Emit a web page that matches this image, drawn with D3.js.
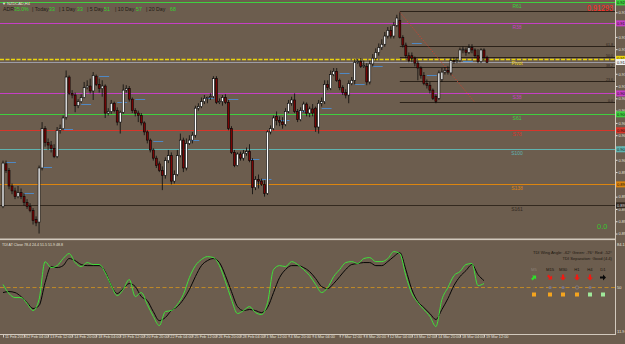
<!DOCTYPE html>
<html>
<head>
<meta charset="utf-8">
<script src="https://d3js.org/d3.v7.min.js"></script>
<style>
  body { margin: 0; background: #6c5d4e; }
  svg { display: block; font-family: "Liberation Sans", Arial, sans-serif; }
</style>
</head>
<body>
<script>
// NZDCAD H4 - bar 0 = 11 Feb 2019 00:00, last bar = 19 Mar 12:00
// candle prices kept in pips above 0.90000
var openPips = [-47,5,-3,-22,-28,-35,-30,-35,-42,-47,
  -52,-63,-66,0,48,31,28,24,14,46,
  48,62,111,91,89,76,81,86,98,100,
  94,112,102,97,100,67,69,79,70,56,
  68,95,97,84,70,67,64,55,44,34,
  22,12,5,-3,-9,9,15,-16,-8,15,
  34,0,30,34,40,73,75,81,85,86,
  87,109,80,81,86,80,48,19,3,17,
  12,18,20,9,-24,-14,-16,-20,-31,44,
  48,63,58,56,53,69,79,83,69,59,
  70,78,67,72,73,50,79,81,102,97,
  114,118,107,98,92,89,103,107,129,130,
  124,124,105,127,134,141,147,151,161,168,
  161,174,180,159,150,137,137,134,128,122,
  113,103,101,95,87,85,108,117,119,116,
  131,130,131,144,144,141,147,144,137,130,
  144,135];
var closePips = [6,-3,-22,-28,-35,-30,-35,-42,-47,-52,
  -64,-67,0,48,31,28,24,14,46,48,
  61,111,91,89,76,81,86,98,100,94,
  113,102,97,100,67,69,79,70,56,68,
  95,97,84,70,67,64,55,44,34,22,
  12,3,-3,-9,9,15,-16,-8,15,34,
  0,30,34,40,73,75,81,85,86,87,
  109,80,81,86,80,48,19,3,17,12,
  18,20,9,-24,-14,-16,-20,-31,44,48,
  61,58,56,53,69,79,83,69,59,70,
  78,67,72,67,50,79,81,102,98,114,
  118,107,98,92,89,103,107,129,130,124,
  125,105,127,134,141,147,151,161,168,161,
  174,183,159,150,137,131,134,128,122,113,
  103,101,95,85,81,116,117,119,117,131,
  130,131,144,145,141,147,144,137,130,144,
  135,129];
var highPips = [9,9,0,-19,-24,-22,-25,-31,-38,-43,
  -49,-59,3,56,51,36,33,29,50,53,
  64,119,113,95,92,84,90,105,107,109,
  117,114,109,107,102,73,83,81,74,70,
  102,101,100,86,73,70,67,57,46,36,
  24,15,8,2,13,22,19,-3,22,42,
  37,36,40,44,76,79,86,89,87,91,
  112,112,85,89,90,83,51,22,19,20,
  22,25,29,12,-10,-8,-13,-15,46,52,
  64,69,63,62,73,83,87,91,72,74,
  81,80,75,78,75,83,86,107,107,119,
  122,122,109,101,96,107,111,133,133,134,
  131,128,131,139,146,152,157,166,172,173,
  178,187,190,162,153,141,141,136,131,124,
  117,108,105,97,90,119,122,123,124,134,
  135,135,147,148,147,151,151,146,145,146,
  146,137];
var lowPips = [-49,-6,-26,-32,-38,-37,-38,-46,-50,-54,
  -69,-71,-80,-3,26,22,19,12,12,42,
  46,59,89,85,68,73,79,85,96,91,
  83,100,92,87,61,64,66,68,52,42,
  66,92,81,67,63,56,52,40,30,19,
  9,0,-5,-27,-13,6,-20,-19,-10,13,
  -5,-3,28,30,37,70,73,78,79,83,
  85,78,78,76,78,46,17,1,2,9,
  9,15,7,-32,-27,-25,-22,-35,-33,41,
  46,52,51,48,51,67,76,67,56,57,
  68,63,62,63,44,42,75,78,95,95,
  112,105,95,89,85,79,101,102,127,122,
  122,101,102,124,131,137,144,148,158,158,
  158,172,158,147,134,129,129,124,107,109,
  101,97,91,83,79,83,105,114,114,113,
  127,128,129,140,137,139,140,134,128,128,
  131,128];

// TDI lines, one reading every 2nd bar
var tdiGreen = [52.5,45.1,41.8,41.8,36.9,31.1,40.2,71.3,66.4,68.0,
  73.8,77.9,70.5,67.2,70.5,68.9,68.9,62.3,51.6,43.4,
  48.4,56.6,42.6,45.9,36.1,26.3,18.8,30.3,31.1,36.1,
  44.3,58.2,68.0,73.0,75.4,74.6,68.0,54.9,40.2,28.7,
  31.1,34.4,29.5,27.9,37.7,64.8,68.0,67.2,71.3,68.9,
  64.8,59.8,52.5,45.9,50.0,59.0,64.8,70.5,71.3,69.7,
  73.8,74.6,71.3,71.3,73.8,79.5,77.9,59.8,45.1,37.7,
  32.0,26.3,18.0,40.2,50.0,59.8,63.1,68.9,69.7,51.6,
  53.3];
var tdiSignal = [45.9,46.7,45.9,42.6,37.7,32.8,35.2,54.1,67.2,66.4,
  68.0,73.8,72.1,68.9,68.0,68.0,68.0,63.1,51.6,45.1,
  49.2,53.3,50.8,42.6,39.3,30.3,22.9,25.4,31.1,34.4,
  40.2,48.4,59.0,68.0,72.1,73.8,70.5,59.8,46.7,34.4,
  31.1,32.0,31.1,29.5,33.6,45.9,58.2,64.8,68.0,68.0,
  66.4,63.1,57.4,50.8,49.2,53.3,59.0,64.8,68.9,69.7,
  70.5,70.5,68.0,68.0,71.3,75.4,78.7,64.8,48.4,38.5,
  33.6,28.7,23.8,32.0,41.0,51.6,59.0,63.9,68.9,60.7,
  55.7];

var timeTickBars = [0,7,15,23,31,39,47,55,63,71,79,87,95,103,112,120,128,136,144,152,160];
var timeTickLabels = ["11 Feb 2019","12 Feb 04:00","13 Feb 12:00","14 Feb 20:00","18 Feb 04:00",
  "19 Feb 12:00","20 Feb 20:00","22 Feb 04:00","25 Feb 12:00","26 Feb 20:00","28 Feb 04:00",
  "1 Mar 12:00","4 Mar 20:00","6 Mar 04:00","7 Mar 12:00","8 Mar 20:00","12 Mar 04:00",
  "13 Mar 12:00","14 Mar 20:00","18 Mar 04:00","19 Mar 12:00"];
var priceTicks = [0.9190,0.9175,0.9160,0.9145,0.9130,0.9115,0.9100,0.9085,0.9070,0.9055,
  0.9040,0.9025,0.9010,0.8995,0.8980,0.8965,0.8950,0.8935,0.8920];
var tdiTicks = [84.1, 50, 11.9];

var levelNames = ["R61","R38","Pivot","S38","S61","S78","S100","S138","S161"];
var levelPrices = [0.92020,0.91765,0.91332,0.90910,0.90655,0.90460,0.90228,0.89800,0.89545];
var bidPrice = 0.91293;

var fibHigh = 0.9192, fibLow = 0.9080, fibStartBar = 132;
var fibRatios = [0, 23.6, 38.2, 50, 61.8, 100];
var trendBars = [132, 157], trendPrices = [0.9190, 0.9080];

var dayOpenBars = [1,7,13,20,26,32,38,44,50,62,67,75,82,86,92,98,106,112,117,123,136,141,153];
var dayOpenPrices = [0.9007,0.8969,0.9001,0.9047,0.9078,0.9112,0.9080,0.9084,0.9033,0.9034,
  0.9085,0.9084,0.9011,0.8987,0.9059,0.9070,0.9073,0.9116,0.9103,0.9124,0.9152,0.9114,0.9131];

var adrNames = ["ADR:", "|  Today", "|  1 Day", "|  5 Day", "|  10 Day", "|  20 Day"];
var adrValues = ["35.0%", "33", "33", "51", "57", "68"];
var tdiHeader = "TDI AT Close 78.4 24.4 51.5 51.9 48.8";
var tdiWing = "TDI Wing Angle: -62°  Green: -76°  Red: -52°";
var tdiSeparation = "TDI Separation: Good (4.4)";
var tfNames = ["M5","M15","M30","H1","H4","D1"];
var tfDirection = ["upright","downright","down","down","down","right"];
var tfDots = ["tiny","full","full","ring","full","tiny"];
var tfStrength = ["weak","weak","weak","weak","strong","strong"];

// ---------------------------------------------------------------
var W = 625, H = 344, axisX = 615;
var bg = "#6c5d4e", axisCol = "#d2c9bd", txtCol = "#e6e2dc";
var levelCol = {R61:"#3fd03f", R38:"#c63fc6", Pivot:"#ecd60c", S38:"#c63fc6", S61:"#3fcf3f",
  S78:"#d8352a", S100:"#5fb3b0", S138:"#dc850f", S161:"#33291f"};

var toPrice = function(p) { return 0.9 + p / 10000; };
var bars = openPips.map(function(o, i) {
  return { i: i, o: toPrice(o), h: toPrice(highPips[i]), l: toPrice(lowPips[i]), c: toPrice(closePips[i]) };
});

var x = d3.scaleLinear().domain([0, bars.length - 1]).range([3, 487]);
var y = d3.scaleLinear().domain([0.8917, 0.9205]).range([236, 0]);
var yi = d3.scaleLinear().domain([11.9, 84.1]).range([334, 246]);

var svg = d3.select("body").append("svg").attr("width", W).attr("height", H);
svg.append("rect").attr("width", W).attr("height", H).attr("fill", bg);

var defs = svg.append("defs");
defs.append("clipPath").attr("id", "mainClip").append("rect")
  .attr("x", 0).attr("y", 0).attr("width", axisX).attr("height", 237);
defs.append("clipPath").attr("id", "subClip").append("rect")
  .attr("x", 0).attr("y", 241).attr("width", axisX).attr("height", 93);

var main = svg.append("g").attr("clip-path", "url(#mainClip)");

// bid line
main.append("line").attr("x1", 0).attr("x2", axisX)
  .attr("y1", Math.round(y(bidPrice)) + 0.5).attr("y2", Math.round(y(bidPrice)) + 0.5)
  .attr("stroke", "#9c9ca6").attr("stroke-width", 1);

// pivot levels
levelNames.forEach(function(n, k) {
  var ly = Math.round(y(levelPrices[k])) + 0.5;
  main.append("line").attr("x1", 0).attr("x2", axisX).attr("y1", ly).attr("y2", ly)
    .attr("stroke", levelCol[n]).attr("stroke-width", n === "Pivot" ? 1.3 : 1)
    .attr("stroke-dasharray", n === "Pivot" ? "4,1.5" : null);
  main.append("text").attr("x", 517).attr("y", ly + 5).attr("text-anchor", "middle")
    .attr("font-size", 5).attr("fill", levelCol[n]).text(n);
});

// fibonacci retracement
fibRatios.forEach(function(r) {
  var fy = Math.round(y(fibLow + (fibHigh - fibLow) * r / 100)) + 0.5;
  main.append("line").attr("x1", x(fibStartBar)).attr("x2", axisX).attr("y1", fy).attr("y2", fy)
    .attr("stroke", "#2b2219").attr("stroke-width", 1);
  main.append("text").attr("x", 613).attr("y", fy - 1).attr("text-anchor", "end")
    .attr("font-size", 3.6).attr("fill", "#2b2219").text(r.toFixed(1));
});

// trend line
main.append("line")
  .attr("x1", x(trendBars[0])).attr("y1", y(trendPrices[0]))
  .attr("x2", x(trendBars[1])).attr("y2", y(trendPrices[1]))
  .attr("stroke", "#d8402c").attr("stroke-width", 0.9).attr("stroke-dasharray", "1.2,1.6");

// day open marks
dayOpenBars.forEach(function(b, k) {
  var dy = Math.round(y(dayOpenPrices[k])) + 0.5;
  main.append("line").attr("x1", x(b)).attr("x2", x(b + 3.3)).attr("y1", dy).attr("y2", dy)
    .attr("stroke", "#4f88c4").attr("stroke-width", 1);
});

// candles
var cg = main.append("g");
cg.selectAll("line.wick").data(bars).enter().append("line").attr("class", "wick")
  .attr("x1", function(d) { return x(d.i); }).attr("x2", function(d) { return x(d.i); })
  .attr("y1", function(d) { return y(d.h); }).attr("y2", function(d) { return y(d.l); })
  .attr("stroke", "#0a0a0a").attr("stroke-width", 0.8);
cg.selectAll("rect.body").data(bars).enter().append("rect").attr("class", "body")
  .attr("x", function(d) { return x(d.i) - 1; })
  .attr("width", 2)
  .attr("y", function(d) { return y(Math.max(d.o, d.c)); })
  .attr("height", function(d) { return Math.max(0.8, Math.abs(y(d.o) - y(d.c))); })
  .attr("fill", function(d) { return d.c >= d.o ? "#ffffff" : "#7a0505"; })
  .attr("stroke", "#050505").attr("stroke-width", 0.6);

// header texts
svg.append("text").attr("x", 2).attr("y", 4.5).attr("font-size", 4).attr("fill", txtCol)
  .text("▼ NZDCAD,H4");
var adrX = [3, 32, 59, 87, 115, 146], adrVX = [14, 49, 77, 104, 136, 170];
adrNames.forEach(function(n, k) {
  svg.append("text").attr("x", adrX[k]).attr("y", 11).attr("font-size", 5.2)
    .attr("fill", "#231c15").text(n);
  svg.append("text").attr("x", adrVX[k]).attr("y", 11).attr("font-size", 5.2)
    .attr("fill", "#35d12f").text(adrValues[k]);
});
svg.append("text").attr("x", 587).attr("y", 10.5)
  .attr("font-size", 9.2).attr("textLength", 26).attr("lengthAdjust", "spacingAndGlyphs")
  .attr("fill", "#ff2b22").text(d3.format(".5f")(bidPrice));
svg.append("text").attr("x", 597).attr("y", 228.5).attr("font-size", 7.5)
  .attr("fill", "#35c52f").text("0.0");

// panel separator + axes frame
svg.append("rect").attr("x", 0).attr("y", 238.5).attr("width", axisX).attr("height", 1.6).attr("fill", axisCol);
svg.append("line").attr("x1", axisX + 0.5).attr("x2", axisX + 0.5).attr("y1", 0).attr("y2", 335)
  .attr("stroke", axisCol).attr("stroke-width", 1);
svg.append("line").attr("x1", 0).attr("x2", axisX + 1).attr("y1", 334.5).attr("y2", 334.5)
  .attr("stroke", axisCol).attr("stroke-width", 1.2);

// price axis
var pAxis = svg.append("g").attr("transform", "translate(" + (axisX + 1) + ",0)")
  .call(d3.axisRight(y).tickValues(priceTicks).tickSize(1.5).tickPadding(1)
    .tickFormat(d3.format(".5f")));
pAxis.select(".domain").remove();
pAxis.selectAll("line").attr("stroke", txtCol);
pAxis.selectAll("text").attr("font-size", 4).attr("fill", txtCol).attr("font-family", "Liberation Sans, Arial");

// level price boxes on the axis
var boxes = levelNames.map(function(n, k) { return { p: levelPrices[k], col: levelCol[n] }; });
boxes.push({ p: bidPrice, col: "#f2f2f2" });
boxes.forEach(function(b) {
  var by = y(b.p);
  svg.append("rect").attr("x", axisX + 1).attr("y", by - 3).attr("width", 10).attr("height", 6)
    .attr("fill", b.col);
  svg.append("text").attr("x", axisX + 2).attr("y", by + 1.5).attr("font-size", 4)
    .attr("fill", b.col === "#33291f" ? "#ddd" : "#111").text(d3.format(".5f")(b.p));
});

// time axis
var tAxis = svg.append("g").attr("transform", "translate(0,335)")
  .call(d3.axisBottom(x).tickValues(timeTickBars).tickSize(2.5).tickPadding(1)
    .tickFormat(function(d, k) { return timeTickLabels[k]; }));
tAxis.select(".domain").remove();
tAxis.selectAll("line").attr("stroke", axisCol);
tAxis.selectAll("text").attr("font-size", 3.8).attr("fill", txtCol)
  .attr("text-anchor", "start").attr("dx", 1.5).attr("dy", -0.3)
  .attr("font-family", "Liberation Sans, Arial");

// ---- TDI sub window
var sub = svg.append("g").attr("clip-path", "url(#subClip)");
sub.append("line").attr("x1", 0).attr("x2", axisX).attr("y1", yi(50)).attr("y2", yi(50))
  .attr("stroke", "#c98f22").attr("stroke-width", 0.9).attr("stroke-dasharray", "4,2.5");
var tdiLine = d3.line().x(function(d, k) { return x(k * 2); }).y(function(d) { return yi(d); })
  .curve(d3.curveMonotoneX);
sub.append("path").attr("d", tdiLine(tdiSignal)).attr("fill", "none")
  .attr("stroke", "#050505").attr("stroke-width", 1);
sub.append("path").attr("d", tdiLine(tdiGreen)).attr("fill", "none")
  .attr("stroke", "#3fe23a").attr("stroke-width", 1);

svg.append("text").attr("x", 2).attr("y", 245.5).attr("font-size", 3.6).attr("fill", txtCol)
  .text(tdiHeader);
tdiTicks.forEach(function(v) {
  svg.append("text").attr("x", axisX + 2).attr("y", v === 50 ? yi(v) + 1.5 : (v > 50 ? 246 : 332.5))
    .attr("font-size", 4).attr("fill", txtCol).text(v === 50 ? "50" : v.toFixed(1));
});

svg.append("text").attr("x", 612).attr("y", 253.5).attr("text-anchor", "end")
  .attr("font-size", 4.1).attr("fill", "#1c1610").text(tdiWing);
svg.append("text").attr("x", 612).attr("y", 259.5).attr("text-anchor", "end")
  .attr("font-size", 4.1).attr("fill", "#1c1610").text(tdiSeparation);

var tfX = [534, 550, 563, 577, 590, 603];
var dirAngle = { upright: -45, downright: 45, down: 90, right: 0 };
var dirCol = { upright: "#2fe02a", downright: "#f01a12", down: "#f01a12", right: "#080808" };
tfNames.forEach(function(n, k) {
  svg.append("text").attr("x", tfX[k]).attr("y", 271).attr("text-anchor", "middle")
    .attr("font-size", 4.2).attr("fill", k === 0 ? "#8a8076" : "#1c1610").text(n);
  svg.append("path").attr("d", "M-3,-1.1L0,-1.1L0,-3L3,0L0,3L0,1.1L-3,1.1Z")
    .attr("transform", "translate(" + tfX[k] + ",277.5) rotate(" + dirAngle[tfDirection[k]] + ")")
    .attr("fill", dirCol[tfDirection[k]]);
  var dot = svg.append("circle").attr("cx", tfX[k]).attr("cy", 287.5);
  if (tfDots[k] === "tiny") dot.attr("r", 0.7).attr("fill", "#5a5560");
  else if (tfDots[k] === "ring") dot.attr("r", 1.7).attr("fill", "none").attr("stroke", "#7c7a88").attr("stroke-width", 0.8);
  else dot.attr("r", 1.6).attr("fill", "#77768a");
  svg.append("rect").attr("x", tfX[k] - 2).attr("y", 292.5).attr("width", 4).attr("height", 4)
    .attr("fill", tfStrength[k] === "weak" ? "#f4a41e" : "#9fe89a");
});
</script>
</body>
</html>
